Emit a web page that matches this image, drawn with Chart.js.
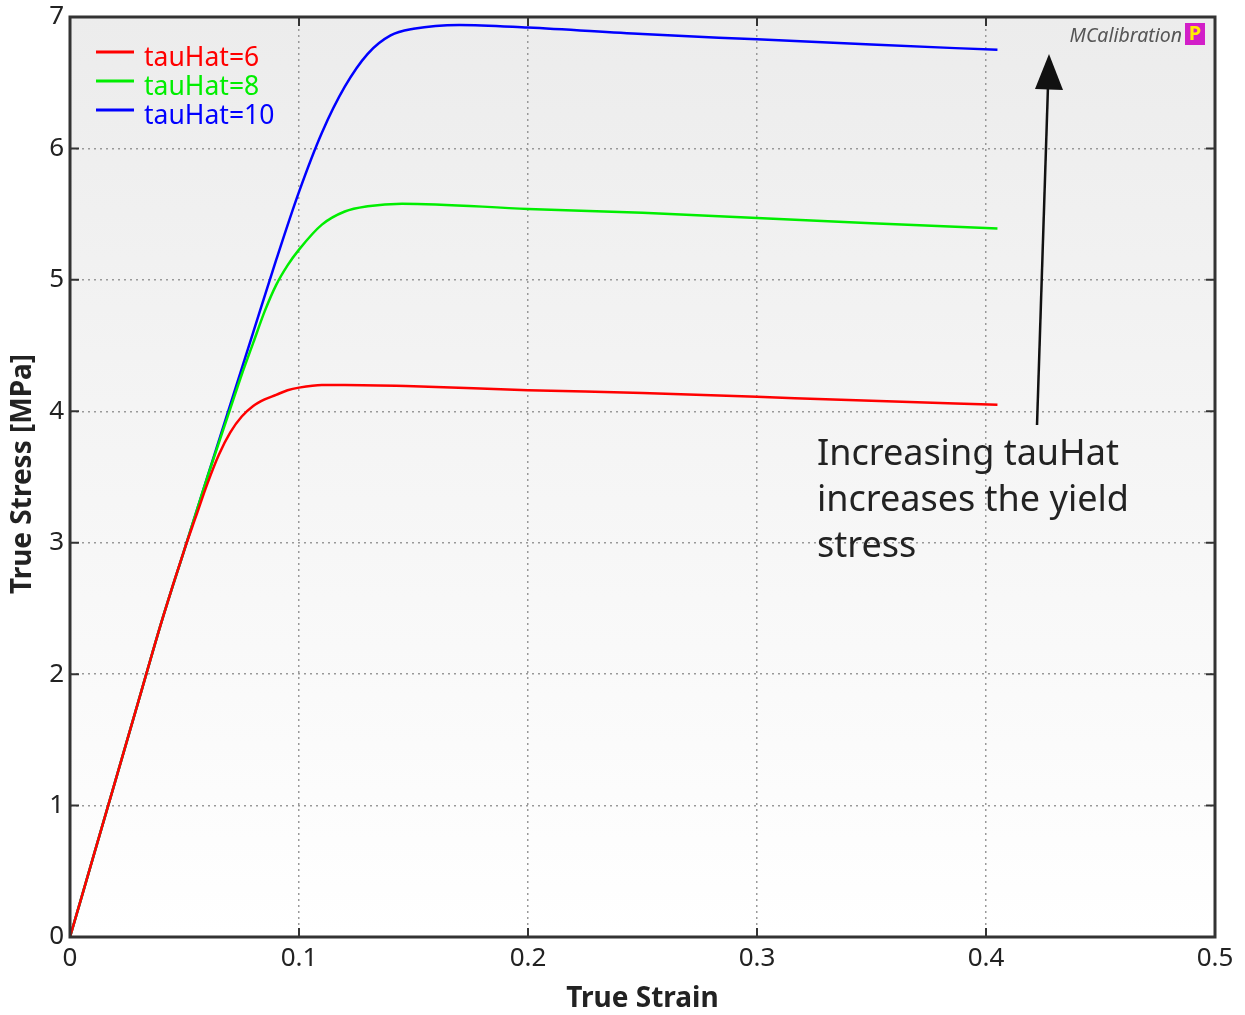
<!DOCTYPE html>
<html>
<head>
<meta charset="utf-8">
<script src="https://cdn.jsdelivr.net/npm/chart.js@4.4.1/dist/chart.umd.min.js"></script>
<style>
  body { margin:0; background:#fff; }
  #chart { display:block; }
</style>
</head>
<body>
<canvas id="chart" width="1245" height="1015"></canvas>
<script>
const labels = ["tauHat=6", "tauHat=8", "tauHat=10"];
const colors = ["#ff0000", "#00ee00", "#0000ff"];

const strain6  = [0, 0.01, 0.02, 0.03, 0.04, 0.05, 0.055, 0.06, 0.065, 0.07, 0.075, 0.08, 0.085, 0.09, 0.095, 0.1, 0.11, 0.12, 0.15, 0.2, 0.25, 0.3, 0.35, 0.405];
const stress6  = [0, 0.6, 1.2, 1.8, 2.4, 2.95, 3.2, 3.45, 3.67, 3.84, 3.96, 4.04, 4.09, 4.125, 4.16, 4.18, 4.2, 4.2, 4.19, 4.16, 4.14, 4.11, 4.08, 4.05];

const strain8  = [0, 0.01, 0.02, 0.03, 0.04, 0.05, 0.06, 0.07, 0.075, 0.08, 0.085, 0.09, 0.095, 0.1, 0.11, 0.12, 0.13, 0.145, 0.2, 0.25, 0.3, 0.35, 0.405];
const stress8  = [0, 0.6, 1.2, 1.8, 2.4, 2.95, 3.5, 4.02, 4.28, 4.52, 4.76, 4.96, 5.11, 5.23, 5.42, 5.52, 5.56, 5.58, 5.54, 5.51, 5.47, 5.43, 5.39];

const strain10 = [0, 0.01, 0.02, 0.03, 0.04, 0.05, 0.06, 0.07, 0.08, 0.09, 0.1, 0.11, 0.12, 0.13, 0.14, 0.15, 0.17, 0.2, 0.25, 0.3, 0.35, 0.405];
const stress10 = [0, 0.6, 1.2, 1.8, 2.4, 2.95, 3.5, 4.05, 4.6, 5.15, 5.67, 6.12, 6.47, 6.72, 6.86, 6.91, 6.94, 6.92, 6.87, 6.83, 6.79, 6.75];

const xTicks = [0, 0.1, 0.2, 0.3, 0.4, 0.5];
const yTicks = [0, 1, 2, 3, 4, 5, 6, 7];

const note = ["Increasing tauHat", "increases the yield", "stress"];

function pts(xs, ys) {
  return xs.map((x, i) => ({ x: x, y: ys[i] }));
}

const FONT = "'Noto Sans', 'Open Sans', sans-serif";

// background gradient behind the plot
const bgPlugin = {
  id: "bg",
  beforeDraw(chart) {
    const { ctx, chartArea: a } = chart;
    const g = ctx.createLinearGradient(0, a.top, 0, a.bottom);
    g.addColorStop(0, "#ececec");
    g.addColorStop(1, "#ffffff");
    ctx.save();
    ctx.fillStyle = g;
    ctx.fillRect(a.left, a.top, a.right - a.left, a.bottom - a.top);
    ctx.restore();
  }
};

// frame, inward ticks, titles, legend, note, arrow, watermark
const decorPlugin = {
  id: "decor",
  afterDraw(chart) {
    const { ctx, chartArea: a, scales } = chart;
    const xs = scales.x, ys = scales.y;
    ctx.save();

    // frame
    ctx.strokeStyle = "#333";
    ctx.lineWidth = 3;
    ctx.strokeRect(a.left, a.top, a.right - a.left, a.bottom - a.top);

    // inward ticks
    ctx.lineWidth = 2;
    ctx.beginPath();
    yTicks.forEach(v => {
      const y = ys.getPixelForValue(v);
      ctx.moveTo(a.left, y); ctx.lineTo(a.left + 9, y);
      ctx.moveTo(a.right, y); ctx.lineTo(a.right - 9, y);
    });
    xTicks.forEach(v => {
      const x = xs.getPixelForValue(v);
      ctx.moveTo(x, a.top); ctx.lineTo(x, a.top + 9);
      ctx.moveTo(x, a.bottom); ctx.lineTo(x, a.bottom - 9);
    });
    ctx.stroke();

    // axis titles
    ctx.fillStyle = "#222";
    ctx.font = "bold 28px " + FONT;
    ctx.textAlign = "center";
    ctx.textBaseline = "middle";
    ctx.fillText("True Strain", (a.left + a.right) / 2, 999);
    ctx.save();
    ctx.translate(23, (a.top + a.bottom) / 2 - 3);
    ctx.rotate(-Math.PI / 2);
    ctx.fillText("True Stress [MPa]", 0, 0);
    ctx.restore();

    // legend
    ctx.font = "26.5px " + FONT;
    ctx.textAlign = "left";
    chart.data.datasets.forEach((ds, i) => {
      const y = 52 + i * 29;
      ctx.strokeStyle = ds.borderColor;
      ctx.lineWidth = 3;
      ctx.beginPath();
      ctx.moveTo(96, y); ctx.lineTo(134, y);
      ctx.stroke();
      ctx.fillStyle = ds.borderColor;
      ctx.fillText(ds.label, 144, y + 6);
    });

    // note text
    ctx.fillStyle = "#222";
    ctx.font = "36px " + FONT;
    note.forEach((t, i) => ctx.fillText(t, 817, 455 + i * 46));

    // arrow
    ctx.strokeStyle = "#111";
    ctx.fillStyle = "#111";
    ctx.lineWidth = 2.5;
    ctx.beginPath();
    ctx.moveTo(1037, 425); ctx.lineTo(1048, 86);
    ctx.stroke();
    ctx.beginPath();
    ctx.moveTo(1049, 54); ctx.lineTo(1063, 90); ctx.lineTo(1035, 89);
    ctx.closePath();
    ctx.fill();

    // watermark
    ctx.font = "italic 19.5px " + FONT;
    ctx.fillStyle = "#555";
    ctx.textAlign = "right";
    ctx.fillText("MCalibration", 1182, 36);
    ctx.fillStyle = "#d21fc8";
    ctx.fillRect(1185, 23, 20, 22);
    ctx.fillStyle = "#ffee00";
    ctx.font = "bold 20px " + FONT;
    ctx.textAlign = "center";
    ctx.fillText("P", 1195, 34);

    ctx.restore();
  }
};

new Chart(document.getElementById("chart"), {
  type: "scatter",
  data: {
    datasets: [
      { label: labels[0], data: pts(strain6, stress6), borderColor: colors[0] },
      { label: labels[1], data: pts(strain8, stress8), borderColor: colors[1] },
      { label: labels[2], data: pts(strain10, stress10), borderColor: colors[2] },
    ].map(d => ({ ...d, showLine: true, pointRadius: 0, borderWidth: 2.5, tension: 0.3, cubicInterpolationMode: "monotone" }))
  },
  options: {
    responsive: false,
    animation: false,
    layout: { padding: { top: 17, right: 30, left: 0, bottom: 0 } },
    plugins: { legend: { display: false }, tooltip: { enabled: false } },
    scales: {
      x: {
        type: "linear", min: 0, max: 0.5,
        afterBuildTicks: s => { s.ticks = xTicks.map(v => ({ value: v })); },
        afterFit: s => { s.height = 78; },
        grid: { color: "#999", lineWidth: 1.5, drawTicks: false },
        border: { display: false, dash: [2, 4] },
        ticks: { padding: 6, color: "#222", font: { size: 26, family: FONT }, callback: v => String(v) }
      },
      y: {
        type: "linear", min: 0, max: 7,
        afterBuildTicks: s => { s.ticks = yTicks.map(v => ({ value: v })); },
        afterFit: s => { s.width = 70; s.paddingTop = 0; },
        grid: { color: "#999", lineWidth: 1.5, drawTicks: false },
        border: { display: false, dash: [2, 4] },
        ticks: { padding: 6, color: "#222", font: { size: 26, family: FONT } }
      }
    }
  },
  plugins: [bgPlugin, decorPlugin]
});
</script>
</body>
</html>
